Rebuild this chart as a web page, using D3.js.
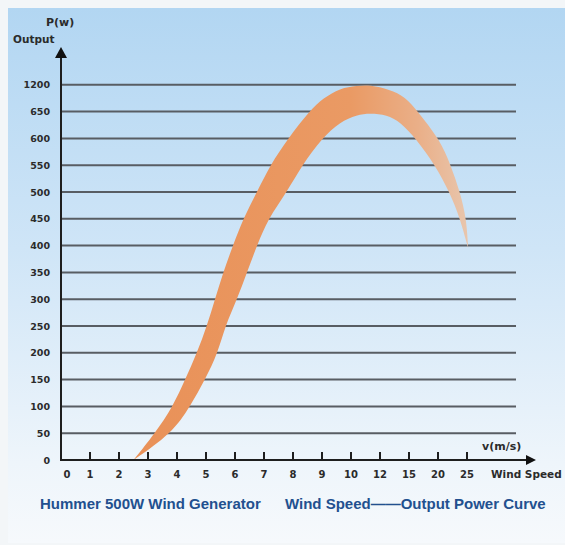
<!DOCTYPE html>
<html>
<head>
<meta charset="utf-8">
<style>
  body { margin: 0; background: #fff; }
  .lbl { font-family: "DejaVu Sans", sans-serif; font-weight: bold; fill: #2b2b2b; }
  .title { font-family: "Liberation Sans", Arial, sans-serif; font-weight: bold; fill: #22508f; }
</style>
</head>
<body>
<script src="https://cdn.jsdelivr.net/npm/d3@7"></script>
<script>
// axis categories (both axes are uneven in the original)
const speedTicks = [0, 1, 2, 3, 4, 5, 6, 7, 8, 9, 10, 12, 15, 20, 25];
const powerTicks = [0, 50, 100, 150, 200, 250, 300, 350, 400, 450, 500, 550, 600, 650, 1200];

// upper (outer) edge of the power band: [wind speed, output]
const outerCurve = [
  [2.5, 0], [3.24, 50], [3.86, 100], [4.28, 150], [4.69, 200], [5.03, 250],
  [5.31, 300], [5.59, 350], [5.93, 400], [6.28, 450], [6.76, 500], [7.21, 550],
  [7.83, 600], [8.55, 650], [9.05, 930], [9.62, 1130], [10.41, 1180], [11.31, 1200],
  [13.0, 1100], [14.6, 960], [16.5, 650], [20.3, 598], [22.2, 550], [23.8, 500],
  [24.9, 450], [25.2, 395]
];
// lower (inner) edge of the power band
const innerCurve = [
  [2.5, 0], [3.83, 50], [4.45, 100], [4.97, 150], [5.41, 200], [5.66, 250],
  [6.07, 300], [6.41, 350], [6.76, 400], [7.14, 450], [7.79, 500], [8.31, 550],
  [9.0, 600], [9.62, 631], [10.41, 644], [11.31, 647], [12.72, 644], [14.07, 631],
  [16.3, 598], [19.5, 550], [22.0, 500], [23.8, 451], [25.2, 395]
];

const W = 565, H = 545;
const x0 = 61, xStep = 29, y0 = 460, yStep = 26.8, gridRight = 516;

const x = d3.scaleLinear()
  .domain(speedTicks)
  .range(speedTicks.map((d, i) => x0 + i * xStep));
const y = d3.scaleLinear()
  .domain(powerTicks)
  .range(powerTicks.map((d, i) => y0 - i * yStep));

const svg = d3.select("body").append("svg")
  .attr("width", W).attr("height", H);

const defs = svg.append("defs");
const bg = defs.append("linearGradient").attr("id", "bg")
  .attr("x1", 0).attr("y1", 0).attr("x2", 0).attr("y2", 1);
bg.append("stop").attr("offset", 0).attr("stop-color", "#b2d6f2");
bg.append("stop").attr("offset", 0.45).attr("stop-color", "#cfe5f7");
bg.append("stop").attr("offset", 0.85).attr("stop-color", "#eef5fb");
bg.append("stop").attr("offset", 1).attr("stop-color", "#f6f9fc");

const band = defs.append("linearGradient").attr("id", "band")
  .attr("gradientUnits", "userSpaceOnUse")
  .attr("x1", x(2.5)).attr("x2", x(25.2)).attr("y1", 0).attr("y2", 0);
band.append("stop").attr("offset", 0).attr("stop-color", "#e99158");
band.append("stop").attr("offset", 0.65).attr("stop-color", "#ea9a64");
band.append("stop").attr("offset", 0.85).attr("stop-color", "#eaaf88");
band.append("stop").attr("offset", 1).attr("stop-color", "#e8c6ad");

// card background
svg.append("rect").attr("x", 0).attr("y", 0).attr("width", W).attr("height", H).attr("fill", "#f3f6f8");
svg.append("rect").attr("x", 8).attr("y", 8).attr("width", W - 8).attr("height", H - 10).attr("fill", "url(#bg)");

// grid lines
svg.append("g").selectAll("line")
  .data(powerTicks.slice(1))
  .join("line")
  .attr("x1", x0).attr("x2", gridRight)
  .attr("y1", d => y(d)).attr("y2", d => y(d))
  .attr("stroke", "#585d63").attr("stroke-width", 2);

// power band
const line = d3.line()
  .x(d => x(d[0])).y(d => y(d[1]))
  .curve(d3.curveBasis);
const dOuter = line(outerCurve);
const dInner = line(innerCurve.slice().reverse());
svg.append("path")
  .attr("d", dOuter + dInner.replace(/^M/, "L") + "Z")
  .attr("fill", "url(#band)");

// axes
svg.append("line").attr("x1", x0).attr("x2", x0).attr("y1", y0 + 1).attr("y2", 56)
  .attr("stroke", "#1e1e1e").attr("stroke-width", 2);
svg.append("path").attr("d", `M${x0},47L${x0 - 6},58L${x0 + 6},58Z`).attr("fill", "#111");
svg.append("line").attr("x1", x0 - 1).attr("x2", 528).attr("y1", y0).attr("y2", y0)
  .attr("stroke", "#1e1e1e").attr("stroke-width", 2);
svg.append("path").attr("d", `M536,${y0}L526,${y0 - 5}L526,${y0 + 5}Z`).attr("fill", "#111");

// x ticks
svg.append("g").selectAll("line")
  .data(speedTicks.slice(1))
  .join("line")
  .attr("x1", d => x(d)).attr("x2", d => x(d))
  .attr("y1", y0 - 8).attr("y2", y0)
  .attr("stroke", "#1e1e1e").attr("stroke-width", 2);

svg.append("g").selectAll("text")
  .data(speedTicks)
  .join("text")
  .attr("class", "lbl")
  .attr("x", d => d === 0 ? x(d) + 6 : x(d))
  .attr("y", 478)
  .attr("text-anchor", "middle")
  .attr("font-size", "10px")
  .text(d => d);

svg.append("g").selectAll("text")
  .data(powerTicks)
  .join("text")
  .attr("class", "lbl")
  .attr("x", 50)
  .attr("y", d => y(d) + 3.5)
  .attr("text-anchor", "end")
  .attr("font-size", "9.5px")
  .text(d => d);

// axis names
svg.append("text").attr("class", "lbl").attr("x", 46).attr("y", 26).attr("font-size", "11px").text("P(w)");
svg.append("text").attr("class", "lbl").attr("x", 13).attr("y", 43).attr("font-size", "10.5px").text("Output");
svg.append("text").attr("class", "lbl").attr("x", 482).attr("y", 450).attr("font-size", "11px").text("v(m/s)");
svg.append("text").attr("class", "lbl").attr("x", 491).attr("y", 478).attr("font-size", "10.5px").text("Wind Speed");

// caption
svg.append("text").attr("class", "title").attr("x", 40).attr("y", 509).attr("font-size", "15px")
  .text("Hummer 500W Wind Generator");
svg.append("text").attr("class", "title").attr("x", 285).attr("y", 509).attr("font-size", "15px")
  .text("Wind Speed——Output Power Curve");
</script>
</body>
</html>
